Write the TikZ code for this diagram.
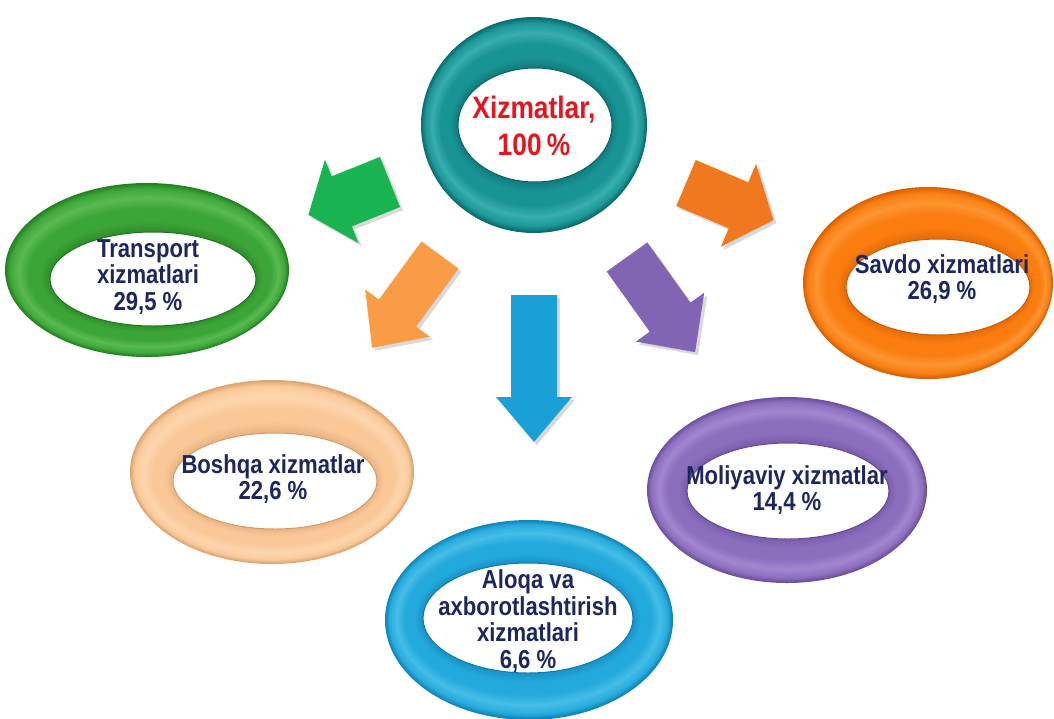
\documentclass[tikz,border=0pt]{standalone}
\usepackage{fontspec}
\newfontfamily\nar{Liberation Sans}[FakeStretch=0.85]
\usetikzlibrary{shapes.geometric}
\definecolor{tlbase}{RGB}{25,148,148}\definecolor{tldark}{RGB}{8,95,100}\definecolor{tllight}{RGB}{95,205,205}
\definecolor{grbase}{RGB}{60,165,55}\definecolor{grdark}{RGB}{30,115,30}\definecolor{grlight}{RGB}{125,212,115}
\definecolor{orbase}{RGB}{250,125,15}\definecolor{ordark}{RGB}{205,88,0}\definecolor{orlight}{RGB}{255,178,95}
\definecolor{pebase}{RGB}{250,200,150}\definecolor{pedark}{RGB}{210,155,105}\definecolor{pelight}{RGB}{255,232,205}
\definecolor{pubase}{RGB}{140,110,190}\definecolor{pudark}{RGB}{98,72,148}\definecolor{pulight}{RGB}{188,165,228}
\definecolor{blbase}{RGB}{35,170,220}\definecolor{bldark}{RGB}{15,118,172}\definecolor{bllight}{RGB}{115,212,245}
\definecolor{agreen}{RGB}{25,180,80}\definecolor{aorange}{RGB}{250,155,70}\definecolor{ablue}{RGB}{25,160,215}
\definecolor{apurple}{RGB}{130,100,180}\definecolor{aorange2}{RGB}{240,120,30}
\definecolor{navy}{RGB}{28,38,95}\definecolor{redt}{RGB}{230,20,30}
% ring: #1,#2 outer centre, #3,#4 outer radii, #5,#6 hole centre, #7,#8 hole radii, #9 colour prefix
\newcommand\tube[9]{%
  \foreach \t in {0,0.03,...,0.97}{%
    \pgfmathsetmacro\ecx{#1+\t*(#5-#1)}%
    \pgfmathsetmacro\ecy{#2+\t*(#6-#2)}%
    \pgfmathsetmacro\erx{#3+\t*(#7-#3)}%
    \pgfmathsetmacro\ery{#4+\t*(#8-#4)}%
    \pgfmathsetmacro\L{max(0,1-abs(\t-0.3)/0.22)*45}%
    \pgfmathsetmacro\D{max(0,1-\t/0.1)*75+max(0,(\t-0.78)/0.22)*50}%
    \colorlet{tmpa}{#9light!\L!#9base}%
    \colorlet{tmpb}{#9dark!\D!tmpa}%
    \fill[fill=tmpb] (\ecx,\ecy) ellipse [x radius=\erx pt, y radius=\ery pt];
  }}
% block arrow: #1,#2 tail centre, #3 angle, #4 length, #5 shaft half width, #6 head half width, #7 head length, #8 colour
\newcommand\blk[8]{%
  \fill[black, opacity=0.15, shift={(#1+3,#2+3)}, rotate=#3] (0,-#5) -- ({#4-#7},-#5) -- ({#4-#7},-#6) -- (#4,0) -- ({#4-#7},#6) -- ({#4-#7},#5) -- (0,#5) -- cycle;
  \fill[#8, shift={(#1,#2)}, rotate=#3] (0,-#5) -- ({#4-#7},-#5) -- ({#4-#7},-#6) -- (#4,0) -- ({#4-#7},#6) -- ({#4-#7},#5) -- (0,#5) -- cycle;}
\begin{document}
\begin{tikzpicture}[x=1pt,y=-1pt,
  hole/.style={ellipse, fill=white, inner sep=0pt, line width=1pt},
  lbl/.style={align=center, text=navy, font=\nar\bfseries\fontsize{26}{26.5}\selectfont},
  ttl/.style={align=center, text=redt, font=\nar\bfseries\fontsize{31}{37}\selectfont}]
\fill[white] (0,0) rectangle (1054,718);
\useasboundingbox (0,0) rectangle (1054,718);
% arrows
\blk{390}{182}{201.9}{88}{27}{45}{36}{agreen}
\blk{440}{255}{233.8}{115}{23}{40}{43}{aorange}
\blk{534}{295}{270}{147}{23}{38}{45}{ablue}
\blk{627}{257}{-54.4}{117}{25}{42}{43}{apurple}
\blk{686}{183}{-23}{95}{25}{45}{38}{aorange2}
% rings
\tube{534}{125}{113}{108}{535}{125}{77}{57}{tl}
\tube{147}{270}{142}{87}{153}{279}{103}{47}{gr}
\tube{928}{283}{125}{96}{938}{287}{92}{48}{or}
\tube{272}{472}{142}{92}{275}{481}{102}{48}{pe}
\tube{787}{490}{140}{93}{788}{491}{101}{48}{pu}
\tube{529}{620}{144}{100}{528}{618}{105}{55}{bl}
% holes
\node[hole, draw=tldark, minimum width=154pt, minimum height=114pt] (top) at (535,125) {};
\node[hole, draw=grdark, minimum width=206pt, minimum height=94pt] (transport) at (153,279) {};
\node[hole, draw=ordark, minimum width=184pt, minimum height=96pt] (savdo) at (938,287) {};
\node[hole, draw=pedark, minimum width=204pt, minimum height=96pt] (boshqa) at (275,481) {};
\node[hole, draw=pudark, minimum width=202pt, minimum height=96pt] (moliya) at (788,491) {};
\node[hole, draw=bldark, minimum width=210pt, minimum height=110pt] (aloqa) at (528,618) {};
% labels
\node[ttl] (topt) at (534,126) {Xizmatlar,\\100\,\%};
\node[lbl] (transportt) at (148,277) {Transport\\xizmatlari\\29,5 \%};
\node[lbl] (savdot) at (942,279) {Savdo xizmatlari\\26,9 \%};
\node[lbl] (boshqat) at (273,479) {Boshqa xizmatlar\\22,6 \%};
\node[lbl] (moliyat) at (787,490) {Moliyaviy xizmatlar\\14,4 \%};
\node[lbl] (aloqat) at (528,621) {Aloqa va\\axborotlashtirish\\xizmatlari\\6,6 \%};
\end{tikzpicture}
\end{document}
